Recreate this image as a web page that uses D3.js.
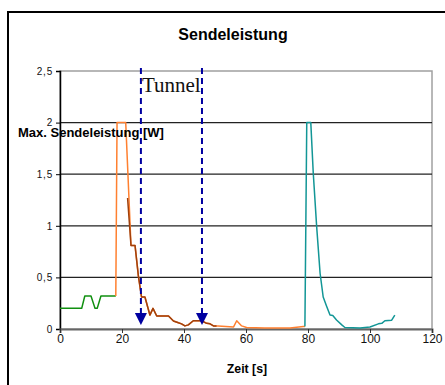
<!DOCTYPE html>
<html><head><meta charset="utf-8">
<script src="https://cdn.jsdelivr.net/npm/d3@7"></script>
<style>body{margin:0;background:#fff;}svg{display:block;}</style>
</head><body>
<script>
const title = "Sendeleistung";
const xLabel = "Zeit [s]";
const yLabel = "Max. Sendeleistung [W]";
const xTicks = [0, 20, 40, 60, 80, 100, 120];
const yTicks = [0, 0.5, 1, 1.5, 2, 2.5];
const yTickLabels = ["0", "0,5", "1", "1,5", "2", "2,5"];
const tunnelMarks = [26.1, 45.8];
const tunnelText = "Tunnel";

const greenX = [0, 7, 8, 10, 11.3, 12, 13.2, 18];
const greenY = [0.2, 0.2, 0.32, 0.32, 0.2, 0.2, 0.32, 0.32];

const orangeX = [18, 18.4, 19, 21.2, 22.9, 24.2, 25.3, 26.3, 27.4, 29, 30, 31.2, 35, 36.6, 38.2, 39.2, 40.3, 41.4, 43, 45.7, 47.3, 48.4, 49.5, 51, 56, 57, 58.6, 60.2, 66, 74.2, 78.5, 79];
const orangeY = [0.32, 2, 2, 2, 0.81, 0.81, 0.51, 0.31, 0.31, 0.135, 0.2, 0.126, 0.126, 0.078, 0.06, 0.05, 0.03, 0.04, 0.08, 0.08, 0.055, 0.05, 0.03, 0.03, 0.02, 0.08, 0.03, 0.015, 0.01, 0.01, 0.025, 0.025];

const brownX = [21.8, 22.9, 24.2, 25.3, 26.3, 27.4, 29, 30, 31.2, 35, 36.6, 38.2, 39.2, 40.3, 41.4, 43, 45.7, 47.3, 48.4, 49.5, 50.5];
const brownY = [1.27, 0.81, 0.81, 0.51, 0.31, 0.31, 0.135, 0.2, 0.126, 0.126, 0.078, 0.06, 0.05, 0.03, 0.04, 0.08, 0.08, 0.055, 0.05, 0.03, 0.03];

const tealX = [79, 79.6, 80.9, 81.7, 82.8, 83.9, 84.9, 86, 87.1, 88, 89.2, 90.9, 91.9, 96.8, 100, 102.7, 103.8, 104.8, 107, 108];
const tealY = [0.025, 2, 2, 1.51, 0.99, 0.54, 0.31, 0.22, 0.135, 0.13, 0.087, 0.04, 0.015, 0.01, 0.02, 0.05, 0.055, 0.08, 0.085, 0.135];

const W = 445, H = 385;
const m = {left: 60, top: 71, right: 432, bottom: 329};
const FONT = "Arial, 'Liberation Sans', sans-serif";
const svg = d3.select("body").append("svg").attr("width", W).attr("height", H);

// outer frame
svg.append("rect").attr("x", 8).attr("y", 12).attr("width", 450).attr("height", 400)
  .attr("fill", "#fff").attr("stroke", "#000").attr("stroke-width", 2);

const x = d3.scaleLinear().domain([0, 120]).range([m.left, m.right]);
const y = d3.scaleLinear().domain([0, 2.5]).range([m.bottom, m.top]);

// plot area border (gray)
svg.append("rect").attr("x", m.left).attr("y", m.top).attr("width", m.right - m.left).attr("height", m.bottom - m.top)
  .attr("fill", "none").attr("stroke", "#a0a0a0").attr("stroke-width", 1.5);

// gridlines
svg.append("g").selectAll("line").data(yTicks.filter(d => d > 0 && d < 2.5)).join("line")
  .attr("x1", m.left).attr("x2", m.right).attr("y1", d => y(d)).attr("y2", d => y(d))
  .attr("stroke", "#222").attr("stroke-width", 1.2);

// y axis
const yAxis = d3.axisLeft(y).tickValues(yTicks).tickSize(4).tickPadding(3).tickFormat((d, i) => yTickLabels[i]);
const gy = svg.append("g").attr("transform", `translate(${m.left},0)`).call(yAxis);
gy.select(".domain").attr("stroke", "#000").attr("stroke-width", 1.5);
gy.selectAll("text").attr("font-family", FONT).attr("font-size", 10).attr("letter-spacing", 0.8).attr("fill", "#111");

// x axis
const xAxis = d3.axisBottom(x).tickValues(xTicks).tickSize(4).tickPadding(1).tickFormat(d3.format("d"));
const gx = svg.append("g").attr("transform", `translate(0,${m.bottom})`).call(xAxis);
gx.select(".domain").attr("stroke", "#666").attr("stroke-width", 2);
gx.selectAll(".tick line").attr("stroke", "#333");
gx.selectAll("text").attr("font-family", FONT).attr("font-size", 12).attr("fill", "#111");

// series
const line = d3.line().x(d => x(d[0])).y(d => y(d[1]));
function drawSeries(xs, ys, color, w) {
  svg.append("path").datum(xs.map((v, i) => [v, ys[i]]))
    .attr("d", line).attr("fill", "none").attr("stroke", color).attr("stroke-width", w)
    .attr("stroke-linejoin", "round");
}
drawSeries(greenX, greenY, "#109010", 1.5);
drawSeries(orangeX, orangeY, "#ff8030", 1.5);
drawSeries(brownX, brownY, "#a0400c", 1.5);
drawSeries(tealX, tealY, "#129696", 1.5);

// tunnel markers
const tg = svg.append("g");
tunnelMarks.forEach(t => {
  const xx = x(t);
  tg.append("line").attr("x1", xx).attr("x2", xx).attr("y1", 68).attr("y2", 314)
    .attr("stroke", "#0000a0").attr("stroke-width", 2).attr("stroke-dasharray", "6,4");
  tg.append("path").attr("d", `M${xx - 6},313 L${xx + 6},313 L${xx},325 Z`).attr("fill", "#0000a0");
});
svg.append("text").attr("x", x(tunnelMarks[0]) + 1).attr("y", 92)
  .attr("font-family", "'Liberation Serif', 'Times New Roman', serif").attr("font-size", 21).attr("fill", "#111")
  .text(tunnelText);

// labels
svg.append("text").attr("x", 233).attr("y", 40).attr("text-anchor", "middle")
  .attr("font-family", FONT).attr("font-weight", "bold").attr("font-size", 16)
  .text(title);
svg.append("text").attr("x", 247).attr("y", 373).attr("text-anchor", "middle")
  .attr("font-family", FONT).attr("font-weight", "bold").attr("font-size", 12.3)
  .text(xLabel);
svg.append("text").attr("x", 18).attr("y", 137)
  .attr("font-family", FONT).attr("font-weight", "bold").attr("font-size", 13)
  .text(yLabel);
</script>
</body></html>
